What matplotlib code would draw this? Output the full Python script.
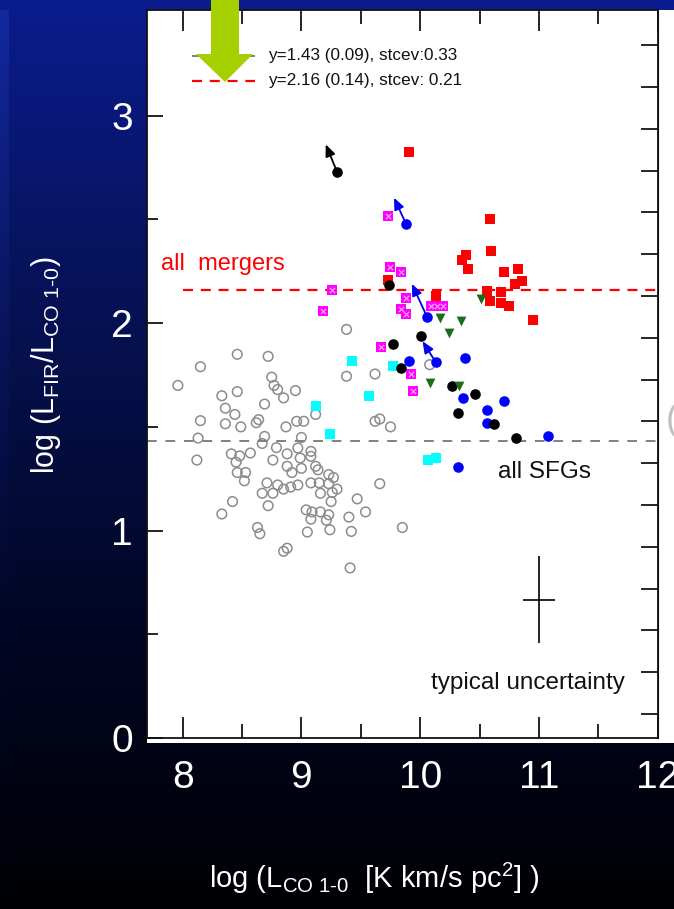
import numpy as np
import matplotlib
matplotlib.use('Agg')
import matplotlib.pyplot as plt
from matplotlib.colors import LinearSegmentedColormap
from matplotlib.patches import Polygon, Rectangle

plt.rcParams['font.family'] = ['Liberation Sans', 'DejaVu Sans']
plt.rcParams['mathtext.fontset'] = 'custom'
plt.rcParams['mathtext.rm'] = 'Liberation Sans'
plt.rcParams['mathtext.it'] = 'Liberation Sans'
plt.rcParams['mathtext.default'] = 'regular'

# ---- data ----
# normal star-forming galaxies (open grey circles)
sfg_x = [8.46, 8.72, 8.15, 7.96, 8.75, 8.77, 8.80, 8.85, 8.33, 8.46, 8.95, 8.69, 8.36,
         8.44, 8.15, 8.36, 8.49, 8.64, 8.62, 8.87, 8.96, 9.02, 8.13, 8.69, 8.67, 8.79,
         8.12, 8.41, 8.48, 8.57, 8.45, 8.46, 8.53, 8.52, 8.76, 8.88, 8.88, 8.92, 8.71,
         8.80, 8.76, 8.67, 8.85, 8.91, 8.72, 8.42, 8.33, 8.63, 8.65, 8.85, 8.88,
         9.38, 9.38, 9.62, 10.08, 9.12, 9.62, 9.66, 9.75, 9.00, 8.97, 9.08, 9.08, 8.99,
         9.00, 9.12, 9.14, 8.97, 9.08, 9.15, 9.23, 9.27, 9.23, 9.30, 9.16, 9.26, 9.25,
         9.47, 9.66, 9.04, 9.09, 9.16, 9.23, 9.08, 9.21, 9.40, 9.54, 9.05, 9.24, 9.42,
         9.85, 9.41]
sfg_y = [1.85, 1.84, 1.79, 1.70, 1.74, 1.70, 1.68, 1.64, 1.65, 1.67, 1.675, 1.61, 1.59,
         1.56, 1.53, 1.515, 1.50, 1.535, 1.52, 1.50, 1.527, 1.527, 1.446, 1.454, 1.42, 1.40,
         1.34, 1.37, 1.36, 1.374, 1.33, 1.28, 1.28, 1.24, 1.34, 1.37, 1.31, 1.28, 1.23,
         1.22, 1.18, 1.18, 1.20, 1.21, 1.12, 1.14, 1.08, 1.015, 0.985, 0.90, 0.915,
         1.97, 1.744, 1.755, 1.80, 1.56, 1.527, 1.538, 1.50, 1.449, 1.398, 1.382, 1.358, 1.35,
         1.30, 1.31, 1.293, 1.22, 1.23, 1.23, 1.27, 1.256, 1.226, 1.20, 1.18, 1.184, 1.14,
         1.153, 1.226, 1.10, 1.09, 1.09, 1.076, 1.055, 1.05, 1.065, 1.09, 0.993, 1.004, 0.996,
         1.015, 0.82]

red_x = [9.91, 9.73, 10.59, 10.60, 10.39, 10.35, 10.40, 10.71, 10.82, 10.86, 10.80,
         10.68, 10.56, 10.59, 10.68, 10.75, 10.95, 10.13]
red_y = [2.825, 2.21, 2.50, 2.347, 2.331, 2.307, 2.262, 2.248, 2.262, 2.202, 2.191,
         2.149, 2.154, 2.106, 2.095, 2.085, 2.014, 2.13]

mag_x = [9.73, 9.75, 9.84, 9.26, 9.18, 9.88, 9.84, 9.88, 10.09, 10.14, 10.19, 9.67, 9.92, 9.94]
mag_y = [2.519, 2.272, 2.246, 2.162, 2.058, 2.122, 2.066, 2.045, 2.082, 2.082, 2.082, 1.886, 1.755, 1.675]

cyan_x = [9.43, 9.77, 9.57, 9.12, 9.24, 10.07, 10.13]
cyan_y = [1.82, 1.793, 1.65, 1.60, 1.467, 1.338, 1.35]

green_x = [10.51, 10.17, 10.34, 10.24, 10.33, 10.08]
green_y = [2.117, 2.026, 2.01, 1.953, 1.696, 1.712]

black_x = [9.30, 9.74, 10.01, 9.77, 9.84, 10.27, 10.46, 10.32, 10.62, 10.81]
black_y = [2.73, 2.186, 1.94, 1.90, 1.785, 1.696, 1.66, 1.567, 1.515, 1.446]

blue_x = [9.88, 10.06, 10.13, 9.91, 10.38, 10.36, 10.71, 10.56, 10.56, 11.08, 10.32]
blue_y = [2.48, 2.028, 1.813, 1.82, 1.83, 1.64, 1.626, 1.58, 1.52, 1.454, 1.305]

# points with arrows (start at the symbol, end at the arrow tip)
arrow_x0 = [9.30, 9.88, 10.06, 10.13]
arrow_y0 = [2.73, 2.48, 2.028, 1.813]
arrow_x1 = [9.205, 9.78, 9.93, 10.02]
arrow_y1 = [2.862, 2.605, 2.19, 1.913]
arrow_c = ['black', '#0000ee', '#0000ee', '#0000ee']

sfg_fit = 1.43
merger_fit = 2.16
unc_x, unc_y = 11.0, 0.666
unc_dx, unc_dy = 0.133, 0.21

fig = plt.figure(figsize=(6.74, 9.09), dpi=100)


def px(x, y):
    return (x / 674.0, 1 - y / 909.0)


# slide background: blue to black gradient
bg = fig.add_axes([0, 0, 1, 1], zorder=-10)
cmap = LinearSegmentedColormap.from_list('slide', ['#0b1c8e', '#061255', '#020726', '#000004'])
bg.imshow(np.linspace(0, 1, 256).reshape(-1, 1), aspect='auto', cmap=cmap, extent=[0, 1, 0, 1])
edge = LinearSegmentedColormap.from_list('edge', ['#13289e', '#08165e', '#020729', '#000005'])
bg.imshow(np.linspace(0, 1, 256).reshape(-1, 1), aspect='auto', cmap=edge,
          extent=[0, 9 / 674.0, 0, 1 - 10 / 909.0])
bg.set_xlim(0, 1)
bg.set_ylim(0, 1)
bg.axis('off')

# white panel of the pasted figure
fig.patches.append(Rectangle(px(147, 743), 1 - 147 / 674.0, (743 - 10) / 909.0,
                             transform=fig.transFigure, facecolor='white', edgecolor='none', zorder=-5))

l, b = px(147, 738)
r, t = px(657.7, 10)
ax = fig.add_axes([l, b, r - l, t - b])
ax.set_facecolor('white')

ax.scatter(sfg_x, sfg_y, s=48, facecolors='none', edgecolors='#8c8c8c', linewidths=1.1, zorder=2)

ax.axhline(sfg_fit, color='#808080', lw=1.4, dashes=(5, 4.5), zorder=2.5)
ax.plot([8.0, 12.0], [merger_fit, merger_fit], color='#ff0000', lw=1.6, dashes=(4.5, 3.5), zorder=2.5)

ax.scatter(red_x, red_y, s=62, marker='s', color='#ff0000', linewidths=0, zorder=3)
ax.scatter(mag_x, mag_y, s=42, marker='s', color='#ff00ff', linewidths=0, zorder=3.2)
ax.scatter(mag_x, mag_y, s=14, marker='x', color='#ffb0ff', linewidths=0.8, zorder=3.3)
ax.scatter(cyan_x, cyan_y, s=58, marker='s', color='#00ffff', linewidths=0, zorder=3.4)
ax.scatter(blue_x, blue_y, s=58, marker='o', color='#0000ff', linewidths=0, zorder=3.6)
ax.scatter(black_x, black_y, s=58, marker='o', color='black', linewidths=0, zorder=3.7)
ax.scatter(green_x, green_y, s=50, marker='v', color='#1d6b1d', linewidths=0, zorder=3.8)

for x0, y0, x1, y1, c in zip(arrow_x0, arrow_y0, arrow_x1, arrow_y1, arrow_c):
    ax.annotate('', xy=(x1, y1), xytext=(x0, y0),
                arrowprops=dict(arrowstyle='-|>,head_length=0.7,head_width=0.3', color=c,
                                lw=1.3, shrinkA=0, shrinkB=0), zorder=4)

# typical uncertainty cross
ax.errorbar([unc_x], [unc_y], xerr=[unc_dx], yerr=[unc_dy], fmt='none', ecolor='black',
            elinewidth=1.2, capsize=0, zorder=3)

ax.text(10.91, 0.265, 'typical uncertainty', fontsize=17.5, ha='center', va='center', color='#111111')
ax.text(10.655, 1.284, 'all SFGs', fontsize=17.5, ha='left', va='center', color='#111111')
ax.text(7.817, 2.283, 'all  mergers', fontsize=17, ha='left', va='center', color='#ff0000')

# legend
ax.plot([8.08, 8.61], [3.29, 3.29], color='#808080', lw=1.4, dashes=(5, 4.5), zorder=3)
ax.plot([8.08, 8.61], [3.17, 3.17], color='#ff0000', lw=1.6, dashes=(4.5, 3.5), zorder=3)
ax.text(8.72, 3.29, 'y=1.43 (0.09), stcev:0.33', fontsize=12.3, va='center', color='#111111')
ax.text(8.72, 3.17, 'y=2.16 (0.14), stcev: 0.21', fontsize=12.3, va='center', color='#111111')

ax.set_xlim(7.7, 12.0)
ax.set_ylim(0, 3.51)
ax.set_xticks([8, 9, 10, 11, 12])
ax.set_xticks([8.5, 9.5, 10.5, 11.5], minor=True)
ax.set_yticks([0, 1, 2, 3])
ax.set_yticks([0.5, 1.5, 2.5], minor=True)
ax.tick_params(axis='x', which='major', direction='in', top=True, length=15, width=1.2,
               labelsize=28, labelcolor='white', pad=16)
ax.tick_params(axis='x', which='minor', direction='in', top=True, length=10, width=1.2)
ax.tick_params(axis='y', which='major', direction='in', right=False, length=11.5, width=1.2,
               labelsize=28, labelcolor='white', pad=10)
ax.tick_params(axis='y', which='minor', direction='in', right=False, length=8, width=1.2)
for sp in ax.spines.values():
    sp.set_linewidth(1.3)
    sp.set_color('#111111')

# the right axis of the original has its own tick spacing
rax = ax.secondary_yaxis('right')
rax.set_yticks(np.linspace(0.116, 3.34, 17))
rax.tick_params(direction='in', length=12, width=1.2, labelright=False)

ax.set_xlabel(r'log (L$_{\rm CO\ 1\text{-}0}$  [K km/s pc$^{2}$] )', fontsize=21, color='white')
ax.xaxis.set_label_coords(0.444, -0.168)
ax.set_ylabel(r'log (L$_{\rm FIR}$/L$_{\rm CO\ 1\text{-}0}$)', fontsize=22, color='white')
ax.yaxis.set_label_coords(-0.165, 0.512)

# green pointer arrow of the slide
fig.patches.append(Polygon([px(211, -2), px(239, -2), px(239, 54), px(253, 54), px(225, 82),
                            px(196, 54), px(211, 54)], closed=True, transform=fig.transFigure,
                           facecolor='#a6cf00', edgecolor='none', zorder=10))
fig.text(666 / 674.0, 1 - 421 / 909.0, '(', fontsize=26, color='#c0c0c0', va='center', ha='left')

fig.savefig('out.png', dpi=100, facecolor='black')
